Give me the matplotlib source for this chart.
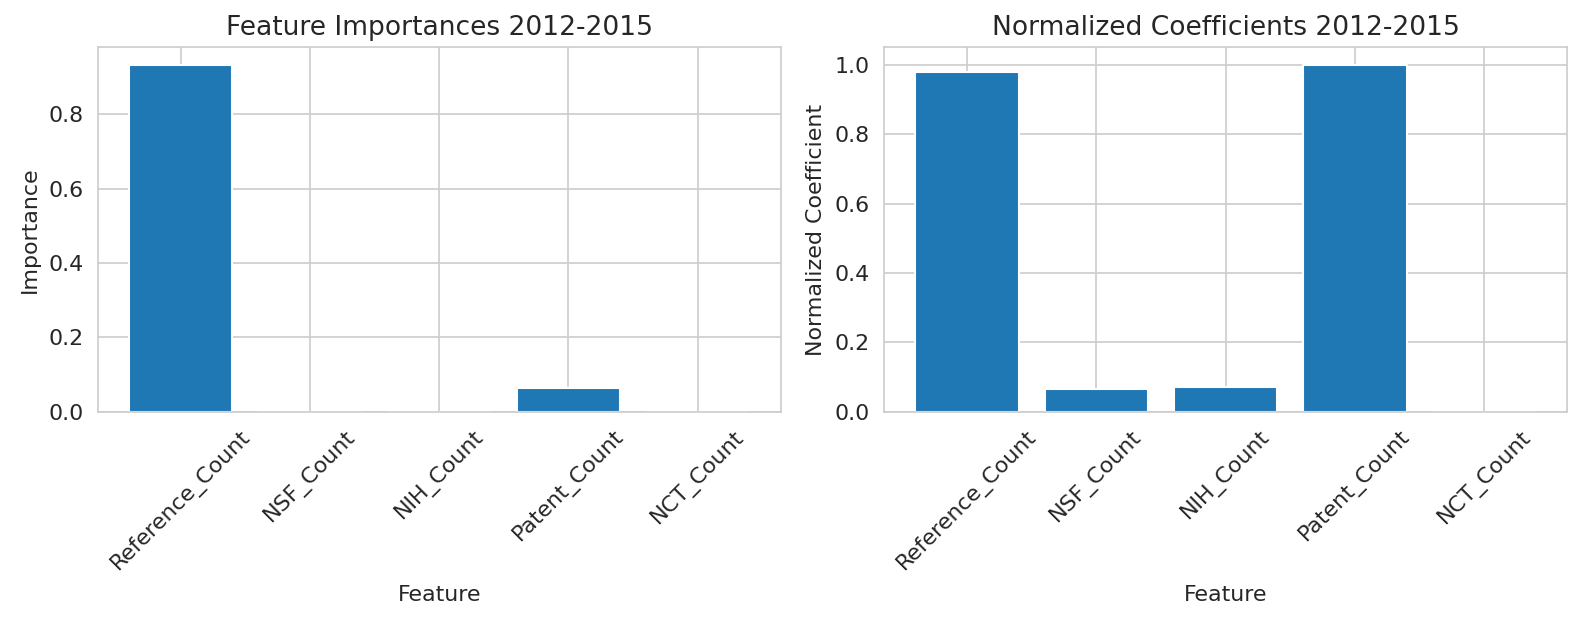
import matplotlib
matplotlib.use("Agg")
import matplotlib.pyplot as plt
import seaborn as sns

sns.set_style("whitegrid")
plt.rcParams["font.size"] = 10.6

features = ["Reference_Count", "NSF_Count", "NIH_Count", "Patent_Count", "NCT_Count"]
importances = [0.933, 0.0005, 0.0005, 0.065, 0.0005]
coefficients = [0.98, 0.065, 0.073, 1.0, 0.0]

fig, axes = plt.subplots(1, 2, figsize=(10.52, 4.16), dpi=150)
plt.subplots_adjust(left=0.062, right=0.993, bottom=0.34, top=0.924, wspace=0.152)

ax = axes[0]
ax.bar(features, importances, color="#1f77b4")
ax.set_title("Feature Importances 2012-2015")
ax.set_xlabel("Feature", labelpad=5)
ax.set_ylabel("Importance")
ax.tick_params(axis="x", rotation=45)

ax = axes[1]
ax.bar(features, coefficients, color="#1f77b4")
ax.set_title("Normalized Coefficients 2012-2015")
ax.set_xlabel("Feature", labelpad=5)
ax.set_ylabel("Normalized Coefficient")
ax.tick_params(axis="x", rotation=45)

fig.savefig("out.png", dpi=150)
